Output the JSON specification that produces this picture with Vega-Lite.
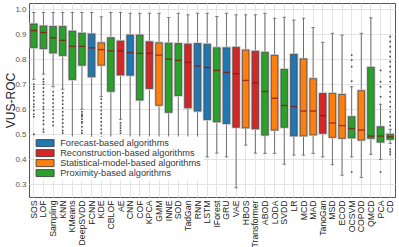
{
"$schema": "https://vega.github.io/schema/vega-lite/v6.json",
"autosize": {"type": "none"},
"width": 366, "height": 194,
"padding": {"left": 29, "top": 3, "right": 4, "bottom": 50},
"background": "white",
"config": {
  "font": "Liberation Sans",
  "view": {"stroke": "#555", "strokeWidth": 1},
  "axis": {"gridColor": "#e4e4e4", "gridWidth": 1, "domain": false, "ticks": false},
  "axisY": {"title": "VUS-ROC", "titleFontSize": 12, "titleFontWeight": "normal", "titleColor": "#222", "format": ".1f", "labelFontSize": 8, "labelColor": "#555", "labelOverlap": false, "grid": true, "labelPadding": 3, "titlePadding": -3}
},
"datasets": {
"stats": [
{"algo":"SOS","group":"Proximity-based algorithms","lo":0.72,"q1":0.846,"med":0.914,"q3":0.94,"hi":0.986},
{"algo":"LOF","group":"Proximity-based algorithms","lo":0.74,"q1":0.842,"med":0.906,"q3":0.932,"hi":0.986},
{"algo":"Sampling","group":"Proximity-based algorithms","lo":0.69,"q1":0.825,"med":0.885,"q3":0.93,"hi":0.986},
{"algo":"KNN","group":"Proximity-based algorithms","lo":0.68,"q1":0.815,"med":0.875,"q3":0.93,"hi":0.986},
{"algo":"KMeans","group":"Proximity-based algorithms","lo":0.47,"q1":0.719,"med":0.851,"q3":0.911,"hi":0.986},
{"algo":"DeepSVDD","group":"Proximity-based algorithms","lo":0.6,"q1":0.776,"med":0.851,"q3":0.903,"hi":0.986},
{"algo":"FCNN","group":"Forecast-based algorithms","lo":0.49,"q1":0.73,"med":0.845,"q3":0.9,"hi":0.986},
{"algo":"KDE","group":"Statistical-model-based algorithms","lo":0.65,"q1":0.776,"med":0.838,"q3":0.865,"hi":0.969},
{"algo":"CBLOF","group":"Proximity-based algorithms","lo":0.47,"q1":0.672,"med":0.833,"q3":0.885,"hi":0.986},
{"algo":"AE","group":"Reconstruction-based algorithms","lo":0.56,"q1":0.737,"med":0.833,"q3":0.872,"hi":0.986},
{"algo":"CNN","group":"Forecast-based algorithms","lo":0.47,"q1":0.736,"med":0.826,"q3":0.896,"hi":0.983},
{"algo":"COF","group":"Proximity-based algorithms","lo":0.46,"q1":0.637,"med":0.823,"q3":0.896,"hi":0.983},
{"algo":"KPCA","group":"Reconstruction-based algorithms","lo":0.46,"q1":0.683,"med":0.823,"q3":0.869,"hi":0.983},
{"algo":"GMM","group":"Statistical-model-based algorithms","lo":0.45,"q1":0.616,"med":0.816,"q3":0.865,"hi":0.983},
{"algo":"INNE","group":"Proximity-based algorithms","lo":0.44,"q1":0.588,"med":0.8,"q3":0.863,"hi":0.966},
{"algo":"SOD","group":"Proximity-based algorithms","lo":0.428,"q1":0.655,"med":0.795,"q3":0.862,"hi":0.983},
{"algo":"TadGan","group":"Reconstruction-based algorithms","lo":0.43,"q1":0.606,"med":0.787,"q3":0.86,"hi":0.977},
{"algo":"RNN","group":"Forecast-based algorithms","lo":0.43,"q1":0.593,"med":0.772,"q3":0.862,"hi":0.983},
{"algo":"LSTM","group":"Forecast-based algorithms","lo":0.41,"q1":0.559,"med":0.767,"q3":0.859,"hi":0.983},
{"algo":"IForest","group":"Proximity-based algorithms","lo":0.425,"q1":0.55,"med":0.755,"q3":0.845,"hi":0.97},
{"algo":"GRU","group":"Forecast-based algorithms","lo":0.41,"q1":0.543,"med":0.747,"q3":0.845,"hi":0.983},
{"algo":"VAE","group":"Reconstruction-based algorithms","lo":0.287,"q1":0.528,"med":0.742,"q3":0.847,"hi":0.977},
{"algo":"HBOS","group":"Statistical-model-based algorithms","lo":0.457,"q1":0.526,"med":0.715,"q3":0.836,"hi":0.977},
{"algo":"Transformer","group":"Reconstruction-based algorithms","lo":0.425,"q1":0.522,"med":0.706,"q3":0.831,"hi":0.977},
{"algo":"ABOD","group":"Proximity-based algorithms","lo":0.424,"q1":0.497,"med":0.671,"q3":0.827,"hi":0.983},
{"algo":"LODA","group":"Statistical-model-based algorithms","lo":0.424,"q1":0.517,"med":0.644,"q3":0.815,"hi":0.963},
{"algo":"SVDD","group":"Proximity-based algorithms","lo":0.381,"q1":0.528,"med":0.615,"q3":0.759,"hi":0.967},
{"algo":"LR","group":"Forecast-based algorithms","lo":0.417,"q1":0.494,"med":0.611,"q3":0.819,"hi":0.956},
{"algo":"MCD","group":"Statistical-model-based algorithms","lo":0.417,"q1":0.494,"med":0.593,"q3":0.801,"hi":0.963},
{"algo":"MAD","group":"Statistical-model-based algorithms","lo":0.424,"q1":0.498,"med":0.593,"q3":0.722,"hi":0.926},
{"algo":"TanoGan","group":"Reconstruction-based algorithms","lo":0.41,"q1":0.504,"med":0.575,"q3":0.663,"hi":0.867},
{"algo":"MSD","group":"Statistical-model-based algorithms","lo":0.379,"q1":0.488,"med":0.545,"q3":0.663,"hi":0.903},
{"algo":"ECOD","group":"Statistical-model-based algorithms","lo":0.337,"q1":0.484,"med":0.535,"q3":0.659,"hi":0.896},
{"algo":"OCSVM","group":"Proximity-based algorithms","lo":0.41,"q1":0.486,"med":0.523,"q3":0.57,"hi":0.69},
{"algo":"COPOD","group":"Statistical-model-based algorithms","lo":0.328,"q1":0.477,"med":0.517,"q3":0.674,"hi":0.903},
{"algo":"QMCD","group":"Proximity-based algorithms","lo":0.42,"q1":0.484,"med":0.493,"q3":0.767,"hi":0.965},
{"algo":"PCA","group":"Proximity-based algorithms","lo":0.4,"q1":0.469,"med":0.493,"q3":0.53,"hi":0.62},
{"algo":"CD","group":"Proximity-based algorithms","lo":0.464,"q1":0.48,"med":0.49,"q3":0.5,"hi":0.52}
],
"outliers": [
{"algo":"SOS","v":0.7},{"algo":"SOS","v":0.69},{"algo":"SOS","v":0.68},{"algo":"SOS","v":0.665},{"algo":"SOS","v":0.65},{"algo":"SOS","v":0.635},{"algo":"SOS","v":0.62},{"algo":"SOS","v":0.61},{"algo":"SOS","v":0.595},{"algo":"SOS","v":0.58},{"algo":"SOS","v":0.57},{"algo":"SOS","v":0.5},
{"algo":"LOF","v":0.72},{"algo":"LOF","v":0.71},{"algo":"LOF","v":0.7},{"algo":"LOF","v":0.685},{"algo":"LOF","v":0.67},{"algo":"LOF","v":0.655},{"algo":"LOF","v":0.64},{"algo":"LOF","v":0.625},{"algo":"LOF","v":0.61},{"algo":"LOF","v":0.6},{"algo":"LOF","v":0.585},{"algo":"LOF","v":0.57},{"algo":"LOF","v":0.555},{"algo":"LOF","v":0.54},{"algo":"LOF","v":0.52},{"algo":"LOF","v":0.51},
{"algo":"Sampling","v":0.67},{"algo":"Sampling","v":0.655},{"algo":"Sampling","v":0.64},{"algo":"Sampling","v":0.625},{"algo":"Sampling","v":0.61},{"algo":"Sampling","v":0.595},{"algo":"Sampling","v":0.58},{"algo":"Sampling","v":0.565},{"algo":"Sampling","v":0.55},{"algo":"Sampling","v":0.535},
{"algo":"KNN","v":0.665},{"algo":"KNN","v":0.65},{"algo":"KNN","v":0.635},{"algo":"KNN","v":0.62},{"algo":"KNN","v":0.605},{"algo":"KNN","v":0.59},{"algo":"KNN","v":0.575},{"algo":"KNN","v":0.56},{"algo":"KNN","v":0.545},{"algo":"KNN","v":0.53},{"algo":"KNN","v":0.515},{"algo":"KNN","v":0.505},
{"algo":"DeepSVDD","v":0.59},{"algo":"DeepSVDD","v":0.58},{"algo":"DeepSVDD","v":0.575},{"algo":"DeepSVDD","v":0.57},{"algo":"DeepSVDD","v":0.56},{"algo":"DeepSVDD","v":0.55},{"algo":"DeepSVDD","v":0.545},{"algo":"DeepSVDD","v":0.53},{"algo":"DeepSVDD","v":0.515},{"algo":"DeepSVDD","v":0.505},
{"algo":"KDE","v":0.64},{"algo":"KDE","v":0.625},{"algo":"KDE","v":0.61},{"algo":"KDE","v":0.595},{"algo":"KDE","v":0.58},{"algo":"KDE","v":0.565},{"algo":"KDE","v":0.55},{"algo":"KDE","v":0.535},{"algo":"KDE","v":0.52},{"algo":"KDE","v":0.505},{"algo":"KDE","v":0.49},{"algo":"KDE","v":0.475},
{"algo":"AE","v":0.545},{"algo":"AE","v":0.535},{"algo":"AE","v":0.525},{"algo":"AE","v":0.515},{"algo":"AE","v":0.505},
{"algo":"OCSVM","v":0.816},{"algo":"OCSVM","v":0.796},{"algo":"OCSVM","v":0.77},{"algo":"OCSVM","v":0.712},{"algo":"OCSVM","v":0.35},
{"algo":"PCA","v":0.755},{"algo":"PCA","v":0.71},{"algo":"PCA","v":0.69},{"algo":"PCA","v":0.65},{"algo":"PCA","v":0.35},
{"algo":"CD","v":0.89},{"algo":"CD","v":0.87},{"algo":"CD","v":0.85},{"algo":"CD","v":0.83},{"algo":"CD","v":0.81},{"algo":"CD","v":0.79},{"algo":"CD","v":0.77},{"algo":"CD","v":0.75},{"algo":"CD","v":0.73},{"algo":"CD","v":0.71},{"algo":"CD","v":0.69},{"algo":"CD","v":0.67},{"algo":"CD","v":0.65},{"algo":"CD","v":0.63},{"algo":"CD","v":0.61},{"algo":"CD","v":0.59},{"algo":"CD","v":0.57},{"algo":"CD","v":0.55},{"algo":"CD","v":0.535},{"algo":"CD","v":0.44},{"algo":"CD","v":0.43},{"algo":"CD","v":0.42}
]
},
"encoding": {
  "x": {"field": "algo", "type": "nominal",
    "scale": {"domain": ["SOS","LOF","Sampling","KNN","KMeans","DeepSVDD","FCNN","KDE","CBLOF","AE","CNN","COF","KPCA","GMM","INNE","SOD","TadGan","RNN","LSTM","IForest","GRU","VAE","HBOS","Transformer","ABOD","LODA","SVDD","LR","MCD","MAD","TanoGan","MSD","ECOD","OCSVM","COPOD","QMCD","PCA","CD"], "paddingInner": 0, "paddingOuter": 0},
    "axis": {"title": null, "labelAngle": -90, "labelFontSize": 8.7, "labelColor": "#222", "grid": true, "bandPosition": 0.5, "labelPadding": 3}}
},
"layer": [
  {"data": {"name": "stats"}, "mark": {"type": "rule", "color": "#6e6e6e", "strokeWidth": 1},
   "encoding": {"y": {"field": "lo", "type": "quantitative",
      "scale": {"domain": [0.25, 1.024], "nice": false, "zero": false},
      "axis": {"title": "VUS-ROC", "values": [0.3,0.4,0.5,0.6,0.7,0.8,0.9,1.0], "labelOverlap": false, "tickCount": 8}},
     "y2": {"field": "hi"}}},
  {"data": {"name": "stats"}, "mark": {"type": "tick", "color": "#555", "size": 3.5, "thickness": 1},
   "encoding": {"y": {"field": "hi", "type": "quantitative", "axis": {"title": "VUS-ROC", "values": [0.3,0.4,0.5,0.6,0.7,0.8,0.9,1.0], "labelOverlap": false, "tickCount": 8}}}},
  {"data": {"name": "stats"}, "mark": {"type": "tick", "color": "#555", "size": 3.5, "thickness": 1},
   "encoding": {"y": {"field": "lo", "type": "quantitative", "axis": {"title": "VUS-ROC", "values": [0.3,0.4,0.5,0.6,0.7,0.8,0.9,1.0], "labelOverlap": false, "tickCount": 8}}}},
  {"data": {"name": "outliers"}, "mark": {"type": "point", "shape": "square", "filled": true, "size": 2.5, "color": "#333", "opacity": 0.9},
   "encoding": {"y": {"field": "v", "type": "quantitative", "axis": {"title": "VUS-ROC", "values": [0.3,0.4,0.5,0.6,0.7,0.8,0.9,1.0], "labelOverlap": false, "tickCount": 8}}}},
  {"data": {"name": "stats"}, "mark": {"type": "bar", "size": 6.5, "fill": "#c6c6c6", "stroke": "#c6c6c6", "strokeWidth": 2.5},
   "encoding": {"y": {"field": "q1", "type": "quantitative", "axis": {"title": "VUS-ROC", "values": [0.3,0.4,0.5,0.6,0.7,0.8,0.9,1.0], "labelOverlap": false, "tickCount": 8}}, "y2": {"field": "q3"}}},
  {"data": {"name": "stats"}, "mark": {"type": "bar", "size": 6.5, "stroke": "#444", "strokeWidth": 0.7, "opacity": 1},
   "encoding": {"y": {"field": "q1", "type": "quantitative", "axis": {"title": "VUS-ROC", "values": [0.3,0.4,0.5,0.6,0.7,0.8,0.9,1.0], "labelOverlap": false, "tickCount": 8}}, "y2": {"field": "q3"},
     "color": {"field": "group", "type": "nominal",
       "scale": {"domain": ["Forecast-based algorithms","Reconstruction-based algorithms","Statistical-model-based algorithms","Proximity-based algorithms"], "range": ["#1f77b4","#d62728","#ff7f0e","#2ca02c"]},
       "legend": {"title": null, "orient": "none", "legendX": 9.5, "legendY": 133.5, "symbolType": "M-2.57,-1H2.57V1H-2.57Z", "symbolSize": 49, "symbolStrokeColor": "#333", "symbolStrokeWidth": 0.8, "symbolOpacity": 1, "labelFontSize": 9.2, "labelColor": "#383838", "labelOffset": 10.5, "rowPadding": -1.8, "fillColor": "white", "padding": 2}}}},
  {"data": {"name": "stats"}, "mark": {"type": "tick", "color": "#8b0a0a", "size": 6.5, "thickness": 1.4},
   "encoding": {"y": {"field": "med", "type": "quantitative", "axis": {"title": "VUS-ROC", "values": [0.3,0.4,0.5,0.6,0.7,0.8,0.9,1.0], "labelOverlap": false, "tickCount": 8}}}}
]
}
